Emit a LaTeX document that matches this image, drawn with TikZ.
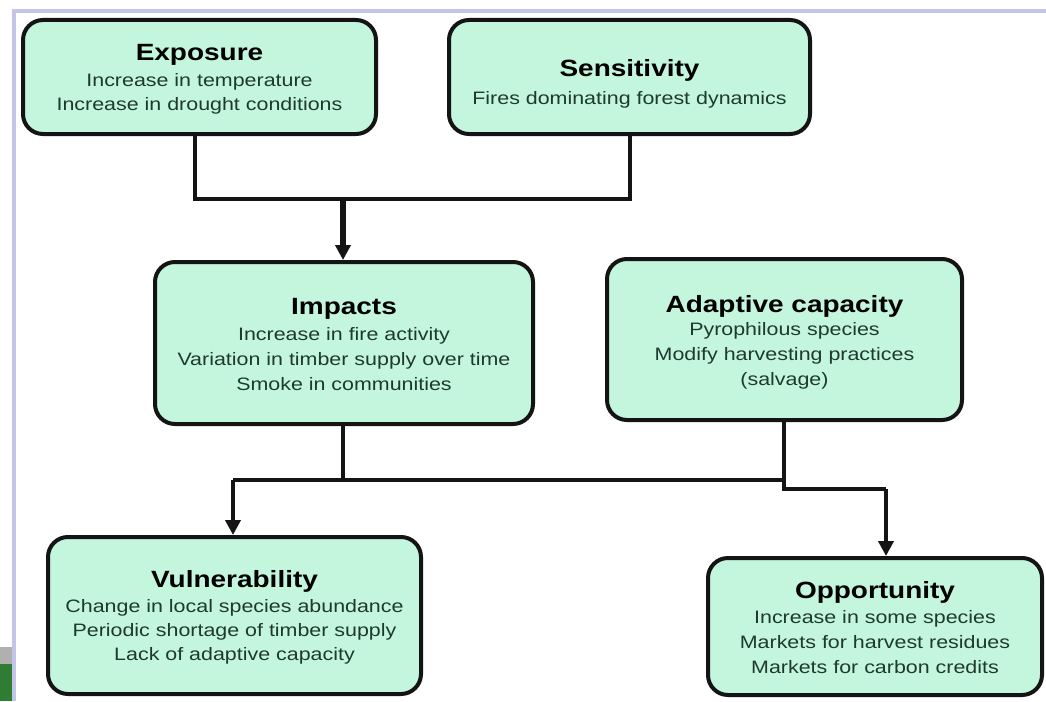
\documentclass[tikz,border=0pt]{standalone}
\usepackage{fontspec}
\setmainfont{Liberation Sans}[FakeStretch=1.19]
\usetikzlibrary{arrows.meta}
\definecolor{boxfill}{RGB}{196,246,222}
\definecolor{bodytext}{RGB}{30,58,45}
\definecolor{framelav}{RGB}{196,196,232}
\definecolor{cornergray}{RGB}{176,176,176}
\definecolor{cornergreen}{RGB}{46,125,50}
\newcommand{\ttl}[2]{{\fontsize{23.5}{28}\selectfont\bfseries\color{black}\rule{0pt}{#1}#2}}
\tikzset{
  boxnode/.style={draw=black!92, line width=4pt, rounded corners=20pt, fill=boxfill,
    inner sep=0pt, align=center, text=bodytext,
    font=\fontsize{18}{24}\selectfont},
  conn/.style={draw=black!92, line width=4pt},
  arr/.style={conn, -{Triangle[width=15pt,length=15pt]}},
}
\begin{document}
\begin{tikzpicture}[x=1pt,y=-1pt]
\useasboundingbox (0,0) rectangle (1046,701);
\fill[white] (0,0) rectangle (1046,701);
\fill[framelav] (12,9) rectangle (1046,13);
\fill[framelav] (12,9) rectangle (16,701);
\fill[cornergray] (0,647) rectangle (12,664);
\fill[cornergreen] (0,664) rectangle (12,701);

\node[boxnode, minimum width=353pt, minimum height=114pt] (exp) at (199.5,77)
  {\ttl{20pt}{Exposure}\\[2pt]Increase in temperature\\Increase in drought conditions};
\node[boxnode, minimum width=361pt, minimum height=114pt] (sen) at (629.5,77)
  {\ttl{30pt}{Sensitivity}\\[4pt]Fires dominating forest dynamics};
\node[boxnode, minimum width=378pt, minimum height=162pt] (imp) at (344,343)
  {\ttl{20pt}{Impacts}\\[2pt]Increase in fire activity\\[1pt]Variation in timber supply over time\\[1pt]Smoke in communities};
\node[boxnode, minimum width=355pt, minimum height=161pt] (ada) at (784.5,339.5)
  {\ttl{22pt}{Adaptive capacity}\\[-1pt]Pyrophilous species\\[1pt]Modify harvesting practices\\[1pt](salvage)};
\node[boxnode, minimum width=373pt, minimum height=157pt] (vul) at (234.5,615.5)
  {\ttl{20pt}{Vulnerability}\\[1pt]Change in local species abundance\\Periodic shortage of timber supply\\Lack of adaptive capacity};
\node[boxnode, minimum width=334pt, minimum height=137pt] (opp) at (875,626.5)
  {\ttl{20pt}{Opportunity}\\[1pt]Increase in some species\\[1pt]Markets for harvest residues\\[1pt]Markets for carbon credits};

\coordinate (j1) at (195,199);
\coordinate (j2) at (630,199);
\coordinate (j3) at (343,199);
\draw[conn] (exp.south -| j1) -- (j1) -- (j2) -- (sen.south -| j2);
\draw[arr, line width=5.5pt] (j3) -- (imp.north -| j3);

\coordinate (k1) at (343,480);
\coordinate (kl) at (233,480);
\coordinate (kr) at (784,480);
\coordinate (s1) at (784,489);
\coordinate (s2) at (886,489);
\draw[conn] (imp.south -| k1) -- (k1);
\draw[conn] (kl) -- (kr);
\draw[arr] (kl) -- (vul.north -| kl);
\draw[conn] (ada.south -| kr) -- (s1) -- (s2);
\draw[arr] (s2) -- (opp.north -| s2);
\end{tikzpicture}
\end{document}
